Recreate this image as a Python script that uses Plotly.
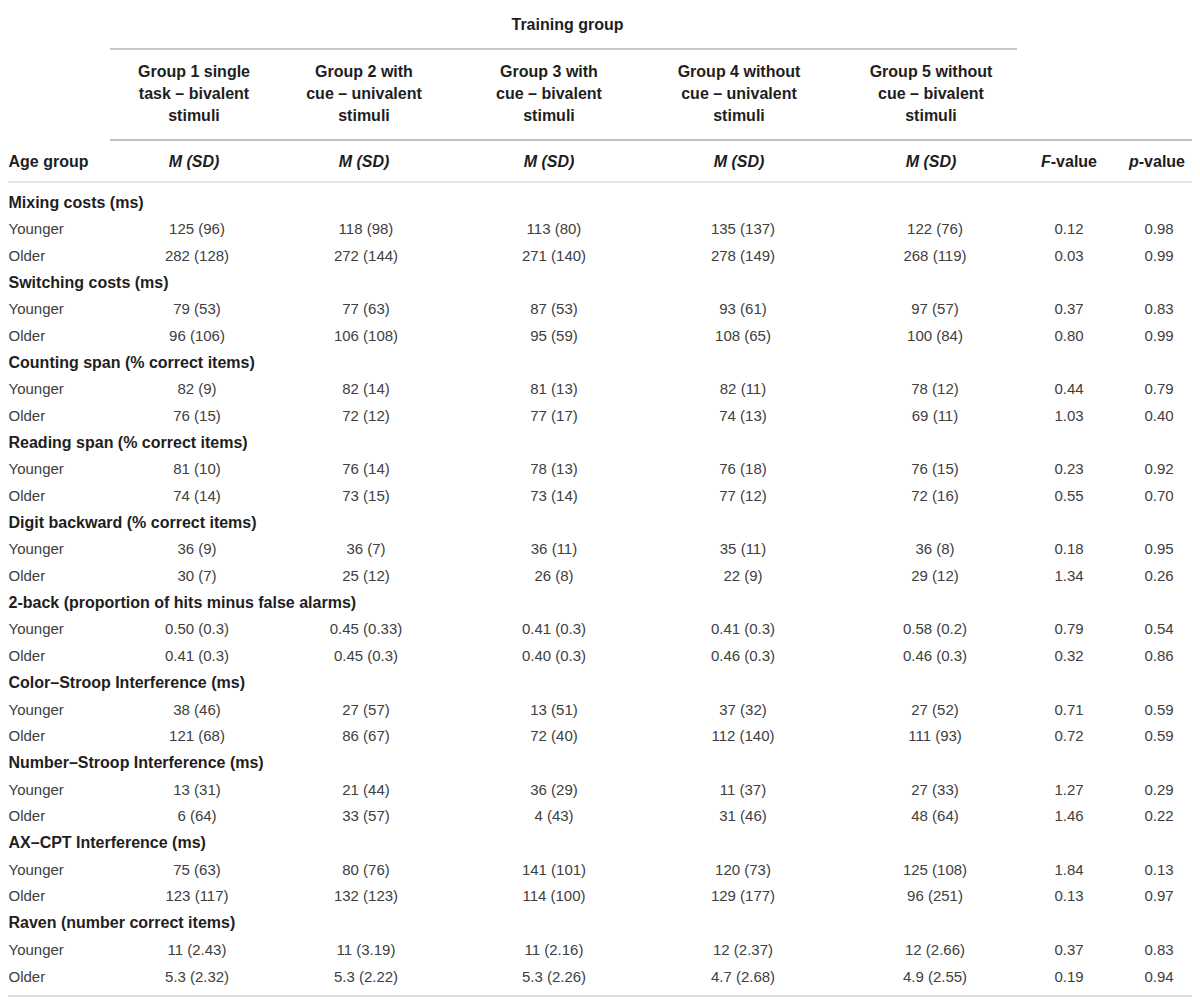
import plotly.graph_objects as go

# ---------------- data ----------------
sections = [
    "Mixing costs (ms)",
    "Switching costs (ms)",
    "Counting span (% correct items)",
    "Reading span (% correct items)",
    "Digit backward (% correct items)",
    "2-back (proportion of hits minus false alarms)",
    "Color–Stroop Interference (ms)",
    "Number–Stroop Interference (ms)",
    "AX–CPT Interference (ms)",
    "Raven (number correct items)",
]
age_groups = ["Younger", "Older"]

group_headers = [
    ["Group 1 single", "task – bivalent", "stimuli"],
    ["Group 2 with", "cue – univalent", "stimuli"],
    ["Group 3 with", "cue – bivalent", "stimuli"],
    ["Group 4 without", "cue – univalent", "stimuli"],
    ["Group 5 without", "cue – bivalent", "stimuli"],
]

# rows: per section, Younger then Older; 5 groups "M (SD)"
g1 = ["125 (96)", "282 (128)", "79 (53)", "96 (106)", "82 (9)", "76 (15)", "81 (10)", "74 (14)",
      "36 (9)", "30 (7)", "0.50 (0.3)", "0.41 (0.3)", "38 (46)", "121 (68)", "13 (31)", "6 (64)",
      "75 (63)", "123 (117)", "11 (2.43)", "5.3 (2.32)"]
g2 = ["118 (98)", "272 (144)", "77 (63)", "106 (108)", "82 (14)", "72 (12)", "76 (14)", "73 (15)",
      "36 (7)", "25 (12)", "0.45 (0.33)", "0.45 (0.3)", "27 (57)", "86 (67)", "21 (44)", "33 (57)",
      "80 (76)", "132 (123)", "11 (3.19)", "5.3 (2.22)"]
g3 = ["113 (80)", "271 (140)", "87 (53)", "95 (59)", "81 (13)", "77 (17)", "78 (13)", "73 (14)",
      "36 (11)", "26 (8)", "0.41 (0.3)", "0.40 (0.3)", "13 (51)", "72 (40)", "36 (29)", "4 (43)",
      "141 (101)", "114 (100)", "11 (2.16)", "5.3 (2.26)"]
g4 = ["135 (137)", "278 (149)", "93 (61)", "108 (65)", "82 (11)", "74 (13)", "76 (18)", "77 (12)",
      "35 (11)", "22 (9)", "0.41 (0.3)", "0.46 (0.3)", "37 (32)", "112 (140)", "11 (37)", "31 (46)",
      "120 (73)", "129 (177)", "12 (2.37)", "4.7 (2.68)"]
g5 = ["122 (76)", "268 (119)", "97 (57)", "100 (84)", "78 (12)", "69 (11)", "76 (15)", "72 (16)",
      "36 (8)", "29 (12)", "0.58 (0.2)", "0.46 (0.3)", "27 (52)", "111 (93)", "27 (33)", "48 (64)",
      "125 (108)", "96 (251)", "12 (2.66)", "4.9 (2.55)"]
f_values = ["0.12", "0.03", "0.37", "0.80", "0.44", "1.03", "0.23", "0.55", "0.18", "1.34",
            "0.79", "0.32", "0.71", "0.72", "1.27", "1.46", "1.84", "0.13", "0.37", "0.19"]
p_values = ["0.98", "0.99", "0.83", "0.99", "0.79", "0.40", "0.92", "0.70", "0.95", "0.26",
            "0.54", "0.86", "0.59", "0.59", "0.29", "0.22", "0.13", "0.97", "0.83", "0.94"]

value_columns = [g1, g2, g3, g4, g5, f_values, p_values]
sub_headers = ["<i>M (SD)</i>"] * 5 + ["<i>F</i>-value", "<i>p</i>-value"]

# ---------------- layout constants ----------------
PAGE_W, PAGE_H = 1200, 1003
OFF = 8  # default page body margin
W, H = PAGE_W - OFF, PAGE_H - OFF
FONT = "Liberation Sans, Arial, Helvetica, sans-serif"
FS = 15
FSB = 16
REG = "#404040"
BOLD = "#1e1e1e"
label_x = 8.5
hdr_x = [194, 364, 549, 739, 931, 1069, 1157]
val_x = [197, 366, 554, 743, 935, 1069, 1159]
row0, row_h = 203.5, 26.7
train_y = 26
hdr_line_y = [73, 95, 117]
sub_y = 163

fig = go.Figure()

# row positions
n_rows = len(sections) * 3
row_y = [row0 + i * row_h for i in range(n_rows)]
sec_texts, sec_ys = [], []
age_texts, age_ys = [], []
data_rows_y = []
for s_i, sec in enumerate(sections):
    base = s_i * 3
    sec_texts.append("<b>" + sec + "</b>")
    sec_ys.append(row_y[base])
    for a_i, ag in enumerate(age_groups):
        age_texts.append(ag)
        age_ys.append(row_y[base + 1 + a_i])
        data_rows_y.append(row_y[base + 1 + a_i])


def text_trace(xs, ys, texts, pos, size, color):
    return go.Scatter(
        x=xs, y=ys, text=texts, mode="text", textposition=pos,
        hoverinfo="skip", showlegend=False, cliponaxis=False,
        textfont=dict(family=FONT, size=size, color=color))


# section labels (bold) and age group labels
fig.add_trace(text_trace([label_x] * len(sec_texts), sec_ys, sec_texts, "middle right", FSB, BOLD))
fig.add_trace(text_trace([label_x] * len(age_texts), age_ys, age_texts, "middle right", FS, REG))

# value columns
for c_i, col in enumerate(value_columns):
    fig.add_trace(text_trace([val_x[c_i]] * len(col), data_rows_y, col, "middle center", FS, REG))

# header: training group
fig.add_trace(text_trace([(hdr_x[0] + hdr_x[4]) / 2 + 5], [train_y], ["<b>Training group</b>"],
                         "middle center", FSB, BOLD))

# group header lines
for g_i, lines in enumerate(group_headers):
    fig.add_trace(text_trace([hdr_x[g_i]] * len(lines), hdr_line_y[:len(lines)],
                             ["<b>" + t + "</b>" for t in lines], "middle center", FSB, BOLD))

# sub-header row
fig.add_trace(text_trace([label_x], [sub_y], ["<b>Age group</b>"], "middle right", FSB, BOLD))
fig.add_trace(text_trace(hdr_x, [sub_y] * len(hdr_x), ["<b>" + t + "</b>" for t in sub_headers],
                         "middle center", FSB, BOLD))

# rules
rules = [
    (OFF, 1194, 5.5, "#e0e0e0", 2),
    (110, 1017, 49, "#c8c8c8", 2),
    (110, 1196, 140, "#aaaaaa", 1.5),
    (OFF, 1196, 182, "#dddddd", 1.5),
    (OFF, 1196, 996, "#dddddd", 2),
]
for x0, x1, y, color, w in rules:
    fig.add_shape(type="line", xref="x", yref="y", x0=x0, x1=x1, y0=y, y1=y,
                  line=dict(color=color, width=w))

fig.update_layout(
    width=W, height=H, margin=dict(l=0, r=0, t=0, b=0),
    paper_bgcolor="white", plot_bgcolor="white",
    xaxis=dict(range=[OFF, PAGE_W], visible=False, fixedrange=True),
    yaxis=dict(range=[PAGE_H, OFF], visible=False, fixedrange=True),
    showlegend=False,
)

fig.write_html("out.html")
